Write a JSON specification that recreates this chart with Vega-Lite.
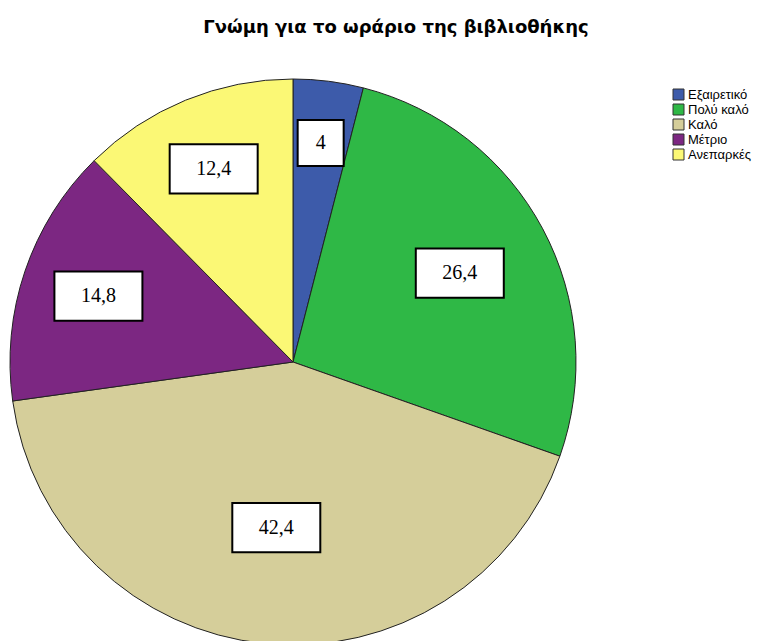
{
  "$schema": "https://vega.github.io/schema/vega-lite/v6.json",
  "width": 566,
  "height": 558,
  "autosize": {"type": "none"},
  "padding": {"left": 10, "top": 83, "right": 197, "bottom": 0},
  "background": "white",
  "title": {
    "text": "Γνώμη για το ωράριο της βιβλιοθήκης",
    "font": "DejaVu Sans",
    "fontSize": 18,
    "fontWeight": "bold",
    "color": "#000000",
    "anchor": "middle",
    "dx": 103,
    "offset": 40
  },
  "config": {"view": {"stroke": null}},
  "data": {
    "values": [
      {"k": 1, "category": "Εξαιρετικό", "value": 4, "label": "4"},
      {"k": 2, "category": "Πολύ καλό", "value": 26.4, "label": "26,4"},
      {"k": 3, "category": "Καλό", "value": 42.4, "label": "42,4"},
      {"k": 4, "category": "Μέτριο", "value": 14.8, "label": "14,8"},
      {"k": 5, "category": "Ανεπαρκές", "value": 12.4, "label": "12,4"}
    ]
  },
  "transform": [
    {"window": [{"op": "sum", "field": "value", "as": "cum"}], "sort": [{"field": "k"}], "frame": [null, 0]},
    {"joinaggregate": [{"op": "sum", "field": "value", "as": "total"}]},
    {"calculate": "(datum.cum - datum.value / 2) / datum.total * 2 * PI", "as": "mid"},
    {"calculate": "0.8 - 0.005 * datum.value", "as": "rf"},
    {"calculate": "datum.rf * sin(datum.mid)", "as": "lx"},
    {"calculate": "datum.rf * cos(datum.mid)", "as": "ly"}
  ],
  "layer": [
    {
      "mark": {"type": "arc", "outerRadius": 283, "stroke": "#222222", "strokeWidth": 1},
      "encoding": {
        "theta": {"field": "value", "type": "quantitative", "stack": true},
        "order": {"field": "k", "type": "quantitative"},
        "color": {
          "field": "category",
          "type": "nominal",
          "sort": null,
          "scale": {
            "domain": ["Εξαιρετικό", "Πολύ καλό", "Καλό", "Μέτριο", "Ανεπαρκές"],
            "range": ["#3D5BAA", "#2FB846", "#D5CE9A", "#7C2782", "#FBF875"]
          },
          "legend": {
            "title": null,
            "orient": "none",
            "legendX": 662,
            "legendY": 5,
            "padding": 0,
            "symbolType": "square",
            "symbolSize": 121,
            "symbolStrokeColor": "#333333",
            "symbolStrokeWidth": 1,
            "symbolOpacity": 1,
            "labelFont": "Liberation Sans",
            "labelFontSize": 13,
            "labelColor": "#000000",
            "labelOffset": 3,
            "rowPadding": 0
          }
        }
      }
    },
    {
      "mark": {"type": "point", "filled": true, "fill": "white", "stroke": "black", "strokeWidth": 2, "opacity": 1},
      "encoding": {
        "x": {"field": "lx", "type": "quantitative", "scale": {"domain": [-1, 1], "nice": false, "zero": false}, "axis": null},
        "y": {"field": "ly", "type": "quantitative", "scale": {"domain": [-0.986, 0.986], "nice": false, "zero": false}, "axis": null},
        "shape": {
          "condition": {"test": "datum.value < 10", "value": "square"},
          "value": "M-1,-0.56L1,-0.56L1,0.56L-1,0.56Z"
        },
        "size": {"condition": {"test": "datum.value < 10", "value": 2116}, "value": 7744}
      }
    },
    {
      "mark": {"type": "text", "font": "Liberation Serif", "fontSize": 20, "color": "black", "align": "center", "baseline": "middle"},
      "encoding": {
        "x": {"field": "lx", "type": "quantitative"},
        "y": {"field": "ly", "type": "quantitative"},
        "text": {"field": "label"}
      }
    }
  ]
}
